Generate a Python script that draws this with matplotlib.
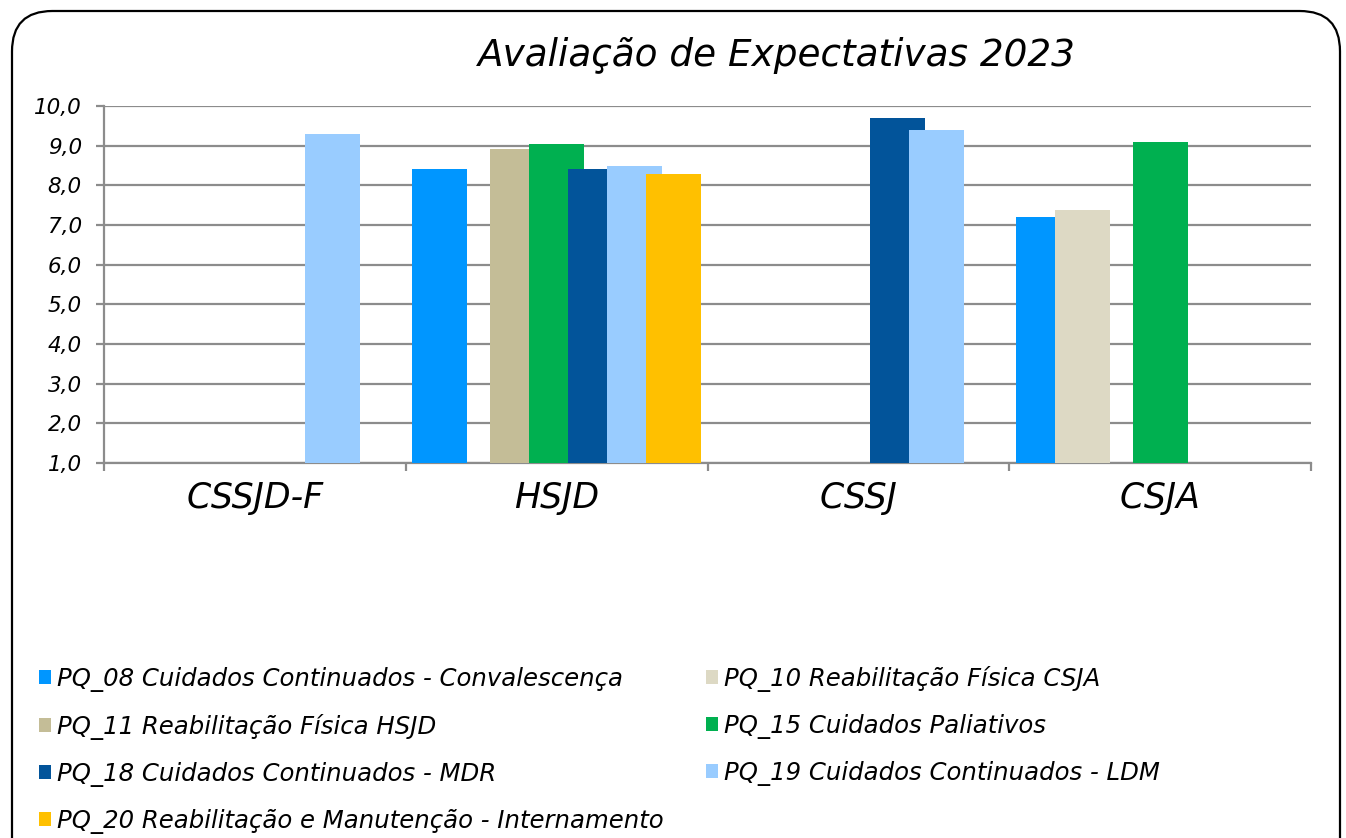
import numpy as np
import matplotlib
matplotlib.use('Agg')
import matplotlib.pyplot as plt
from matplotlib.patches import FancyBboxPatch, Patch
from matplotlib.ticker import FuncFormatter, FixedLocator

plt.rcParams['font.family'] = ['DejaVu Sans']

# Data
categories = ['CSSJD-F', 'HSJD', 'CSSJ', 'CSJA']
series = ['PQ_08 Cuidados Continuados - Convalescença',
          'PQ_10 Reabilitação Física CSJA',
          'PQ_11 Reabilitação Física HSJD',
          'PQ_15 Cuidados Paliativos',
          'PQ_18 Cuidados Continuados - MDR',
          'PQ_19 Cuidados Continuados - LDM',
          'PQ_20 Reabilitação e Manutenção - Internamento']
colors = ['#0096FF', '#DDD9C4', '#C4BD97', '#00B050', '#02549A', '#99CCFF', '#FFC000']

nan = np.nan
pq08 = [nan, 8.40, nan, 7.21]
pq10 = [nan, nan, nan, 7.38]
pq11 = [nan, 8.92, nan, nan]
pq15 = [nan, 9.04, nan, 9.08]
pq18 = [nan, 8.42, 9.70, nan]
pq19 = [9.29, 8.49, 9.39, nan]
pq20 = [nan, 8.28, nan, nan]
values = [pq08, pq10, pq11, pq15, pq18, pq19, pq20]

W, H = 1346, 838
fig = plt.figure(figsize=(W / 100, H / 100), dpi=100)

# rounded frame around the chart
frame = FancyBboxPatch((12 / W, -40 / H), (1328) / W, (827 + 40) / H,
                       boxstyle='round,pad=0,rounding_size=0.03',
                       transform=fig.transFigure, fill=False,
                       edgecolor='black', linewidth=1.6,
                       mutation_aspect=W / H)
fig.patches.append(frame)

ax = fig.add_axes([104 / W, 375 / H, 1207 / W, 357 / H])

step = 0.129
width = 0.182
x = np.arange(len(categories)) + 0.5
for i, (vals, col) in enumerate(zip(values, colors)):
    vals = np.array(vals, dtype=float)
    ok = ~np.isnan(vals)
    ax.bar(x[ok] + (i - 3) * step, vals[ok], width=width, color=col,
           edgecolor='none', zorder=3 + i)

ax.set_xlim(0, len(categories))
ax.set_ylim(1, 10)
ax.set_yticks(np.arange(1, 11))
ax.yaxis.set_major_formatter(FuncFormatter(lambda v, p: f'{v:.1f}'.replace('.', ',')))
ax.grid(axis='y', color='#8C8C8C', linewidth=1.6, zorder=0)
ax.set_axisbelow(True)

ax.xaxis.set_major_locator(FixedLocator(np.arange(len(categories) + 1)))
ax.xaxis.set_minor_locator(FixedLocator(x))
ax.set_xticklabels([], minor=False)
ax.set_xticklabels(categories, minor=True, fontsize=25, style='italic')
ax.tick_params(axis='x', which='major', direction='out', length=6, width=1.6, color='#8C8C8C')
ax.tick_params(axis='x', which='minor', length=0, pad=13)
ax.tick_params(axis='y', direction='out', length=6, width=1.6, color='#8C8C8C',
               labelsize=15.5, pad=10)
for lab in ax.get_yticklabels():
    lab.set_style('italic')

for s in ['top', 'right']:
    ax.spines[s].set_visible(False)
for s in ['left', 'bottom']:
    ax.spines[s].set_color('#8C8C8C')
    ax.spines[s].set_linewidth(1.6)

fig.text(777 / W, 1 - 56 / H, 'Avaliação de Expectativas 2023', ha='center', va='center',
         fontsize=26.9, style='italic')

# legend ordered row-wise like the reference (two columns)
order = [0, 2, 4, 6, 1, 3, 5]
handles = [Patch(facecolor=colors[k], edgecolor='none') for k in order]
labels = [series[k] for k in order]
leg = fig.legend(handles, labels, ncol=2, loc='upper left',
                 bbox_to_anchor=(39 / W, 1 - 666 / H), frameon=False,
                 prop={'size': 17.6, 'style': 'italic'},
                 handlelength=0.5, handleheight=0.5, handletextpad=0.25,
                 labelspacing=0.9, columnspacing=1.72, borderpad=0, borderaxespad=0)

fig.savefig('out.png', dpi=100)
